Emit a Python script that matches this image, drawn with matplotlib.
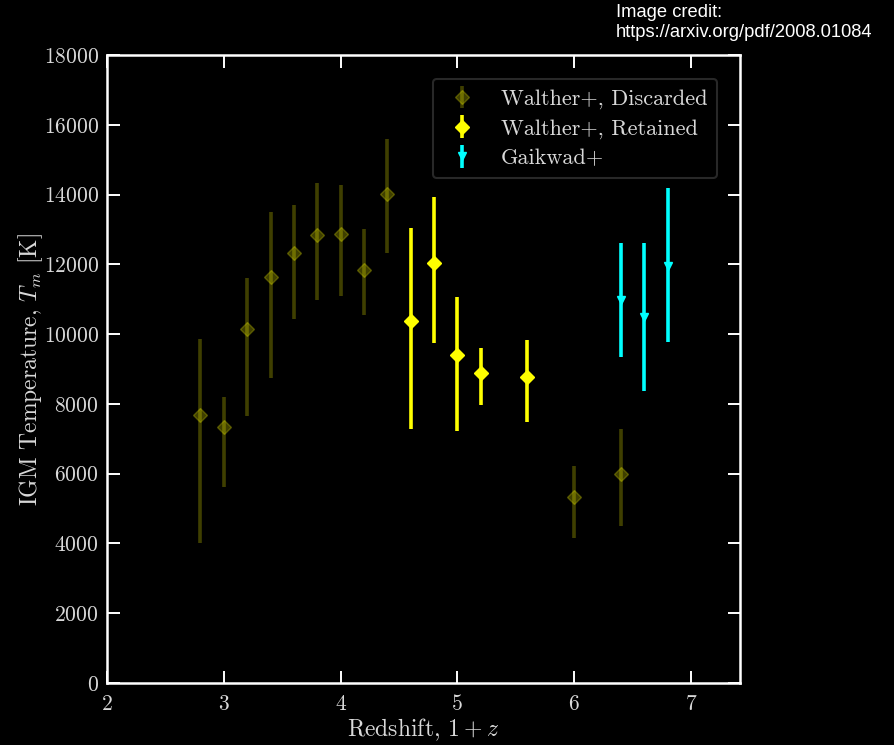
import matplotlib
matplotlib.use("Agg")
import matplotlib.pyplot as plt

# Walther+ measurements that were discarded
disc_z = [2.8, 3.0, 3.2, 3.4, 3.6, 3.8, 4.0, 4.2, 4.4, 6.0, 6.4]
disc_T = [7670, 7330, 10140, 11630, 12330, 12850, 12880, 11830, 14020, 5330, 5980]
disc_lo = [4000, 5630, 7650, 8750, 10430, 10970, 11080, 10560, 12330, 4160, 4500]
disc_hi = [9860, 8210, 11620, 13510, 13710, 14320, 14260, 13010, 15600, 6230, 7270]

# Walther+ measurements that were retained
ret_z = [4.6, 4.8, 5.0, 5.2, 5.6]
ret_T = [10380, 12050, 9390, 8890, 8780]
ret_lo = [7290, 9740, 7210, 7970, 7470]
ret_hi = [13030, 13920, 11050, 9600, 9820]

# Gaikwad+ measurements
gai_z = [6.4, 6.6, 6.8]
gai_T = [10980, 10500, 11960]
gai_lo = [9350, 8380, 9770]
gai_hi = [12620, 12620, 14200]

x_ticks = [2, 3, 4, 5, 6, 7]
y_ticks = [0, 2000, 4000, 6000, 8000, 10000, 12000, 14000, 16000, 18000]

plt.rcParams["font.family"] = "serif"
plt.rcParams["font.serif"] = ["cmr10", "DejaVu Serif"]
plt.rcParams["mathtext.fontset"] = "cm"
plt.rcParams["axes.unicode_minus"] = False
plt.rcParams["axes.formatter.use_mathtext"] = True

text_col = "#d9d9d9"

fig = plt.figure(figsize=(8.94, 7.45), dpi=100, facecolor="black")
ax = fig.add_axes([0.1197, 0.0832, 0.7080, 0.8430], facecolor="black")


def yerr(T, lo, hi):
    return [[t - l for t, l in zip(T, lo)], [h - t for t, h in zip(T, hi)]]


ax.errorbar(disc_z, disc_T, yerr=yerr(disc_T, disc_lo, disc_hi), fmt="D",
            color="yellow", alpha=0.25, ms=7.5, elinewidth=2.6, capsize=0,
            label="Walther+, Discarded")
ax.errorbar(ret_z, ret_T, yerr=yerr(ret_T, ret_lo, ret_hi), fmt="D",
            color="yellow", ms=7.5, elinewidth=2.6, capsize=0,
            label="Walther+, Retained")
ax.errorbar(gai_z, gai_T, yerr=yerr(gai_T, gai_lo, gai_hi), fmt="v",
            color="cyan", ms=6, elinewidth=2.6, capsize=0,
            label="Gaikwad+")

ax.set_xlim(2, 7.42)
ax.set_ylim(0, 18000)
ax.set_xticks(x_ticks)
ax.set_yticks(y_ticks)

for s in ax.spines.values():
    s.set_color("white")
    s.set_linewidth(1.8)

ax.tick_params(which="both", direction="in", top=True, right=True,
               length=9, width=1.4, color="white", labelcolor=text_col,
               labelsize=15.5, pad=6)
ax.tick_params(axis="x", pad=8)

ax.set_xlabel(r"Redshift, $1+z$", color=text_col, fontsize=17, labelpad=1.5)
ax.set_ylabel(r"IGM Temperature, $T_m$ [K]", color=text_col, fontsize=17,
              labelpad=-1)

leg = ax.legend(loc="upper right", bbox_to_anchor=(0.964, 0.962),
                borderaxespad=0.0, fontsize=16, frameon=True,
                facecolor="black", edgecolor="#333333", labelcolor=text_col,
                handletextpad=0.9, handlelength=1.7, borderpad=0.45,
                labelspacing=0.45)
leg.get_frame().set_linewidth(1.5)

fig.text(616 / 894, 1 - 4 / 745, "Image credit:\nhttps://arxiv.org/pdf/2008.01084",
         ha="left", va="top", color="white", fontsize=13.2,
         family=["Liberation Sans", "DejaVu Sans"], linespacing=1.2)

fig.savefig("out.png", dpi=100, facecolor="black")
